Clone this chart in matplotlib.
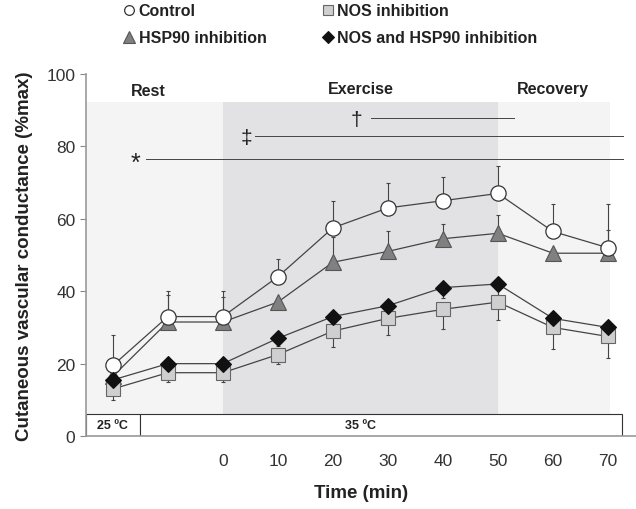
import numpy as np
import matplotlib
matplotlib.use("Agg")
from matplotlib import pyplot as plt
from matplotlib.patches import Rectangle
from matplotlib.lines import Line2D

plt.rcParams['font.family'] = ['Liberation Sans', 'DejaVu Sans']

# time points (the two rest samples sit at -20 and -10 on the axis)
time = [-20, -10, 0, 10, 20, 30, 40, 50, 60, 70]
xtick_vals = [0, 10, 20, 30, 40, 50, 60, 70]

control = [19.5, 33, 33, 44, 57.5, 63, 65, 67, 56.5, 52]
control_err = [8.5, 7, 7, 5, 7.5, 7, 6.5, 7.5, 7.5, 12]

hsp90 = [16.5, 31.5, 31.5, 37, 48, 51, 54.5, 56, 50.5, 50.5]
hsp90_err = [0, 7.5, 7, 0, 7, 5.5, 4, 5, 0, 6.5]

nos = [13, 17.5, 17.5, 22.5, 29, 32.5, 35, 37, 30, 27.5]
nos_err = [3, 2.5, 2.5, 2.5, 4.5, 4.5, 5.5, 5, 6, 6]

nos_hsp = [15.5, 20, 20, 27, 33, 36, 41, 42, 32.5, 30]
nos_hsp_err = [2, 2, 2, 2, 3, 3, 3, 3, 3, 3]

fig = plt.figure(figsize=(6.36, 5.1), dpi=100)
ax = fig.add_axes([0.135, 0.143, 0.865, 0.71])
ax.set_xlim(-24.9, 75.1)
ax.set_ylim(0, 100)

# shaded phases
ax.add_patch(Rectangle((-24.9, 6), 24.9, 86.3, color="#f4f4f4", lw=0, zorder=0))
ax.add_patch(Rectangle((0, 6), 50, 86.3, color="#e2e2e4", lw=0, zorder=0))
ax.add_patch(Rectangle((50, 6), 20.3, 86.3, color="#f4f4f4", lw=0, zorder=0))

# ambient temperature boxes
ax.add_patch(Rectangle((-24.9, 0), 9.9, 6, fc="white", ec="#333333", lw=0.8, zorder=1))
ax.add_patch(Rectangle((-15, 0), 87.6, 6, fc="white", ec="#333333", lw=0.8, zorder=1))
ax.text(-20, 3, "25 ºC", ha="center", va="center", fontsize=9, fontweight="bold", color="#222222")
ax.text(25, 3, "35 ºC", ha="center", va="center", fontsize=9, fontweight="bold", color="#222222")

ax.text(-13.5, 95.5, "Rest", ha="center", va="center", fontsize=11.5, fontweight="bold", color="#222222")
ax.text(25, 96, "Exercise", ha="center", va="center", fontsize=11.5, fontweight="bold", color="#222222")
ax.text(60, 96, "Recovery", ha="center", va="center", fontsize=11.5, fontweight="bold", color="#222222")

# significance lines
ax.plot([27, 53], [87.8, 87.8], color="#444444", lw=0.7)
ax.text(24.3, 87.5, "†", ha="center", va="center", fontsize=15, color="#222222")
ax.plot([5.8, 72.7], [82.8, 82.8], color="#444444", lw=0.7)
ax.text(4.2, 82.5, "‡", ha="center", va="center", fontsize=15, color="#222222")
ax.plot([-14, 72.7], [76.6, 76.6], color="#444444", lw=0.7)
ax.text(-15.8, 75.5, "*", ha="center", va="center", fontsize=18, color="#222222")

lc = "#444444"
ek = dict(ecolor=lc, elinewidth=0.8, capsize=1.5, capthick=0.8)
z = np.zeros(len(time))

ax.errorbar(time, control, yerr=[z, control_err], fmt="none", zorder=2, **ek)
ax.errorbar(time, hsp90, yerr=[z, hsp90_err], fmt="none", zorder=2, **ek)
ax.errorbar(time, nos, yerr=[nos_err, z], fmt="none", zorder=2, **ek)
ax.errorbar(time, nos_hsp, yerr=[nos_hsp_err, z], fmt="none", zorder=2, **ek)

styles = [
    dict(marker="o", ms=11, mfc="white", mec="#333333", mew=0.9),
    dict(marker="^", ms=12, mfc="#808080", mec="#555555", mew=0.8),
    dict(marker="s", ms=10, mfc="#cfcfcf", mec="#666666", mew=0.8),
    dict(marker="D", ms=8.5, mfc="#111111", mec="#111111", mew=0.8),
]
ax.plot(time, control, color=lc, lw=0.9, zorder=4, **styles[0])
ax.plot(time, hsp90, color=lc, lw=0.9, zorder=3, **styles[1])
ax.plot(time, nos, color=lc, lw=0.9, zorder=3, **styles[2])
ax.plot(time, nos_hsp, color=lc, lw=0.9, zorder=4, **styles[3])

# legend in two rows above the axes
labels = ["Control", "HSP90 inhibition", "NOS inhibition", "NOS and HSP90 inhibition"]
lx = [0.203, 0.203, 0.515, 0.515]
ly = [0.978, 0.925, 0.978, 0.925]
leg_ms = [7, 8, 7, 6]
for i in range(4):
    st = dict(styles[i])
    st["ms"] = leg_ms[i]
    fig.add_artist(Line2D([lx[i]], [ly[i]], transform=fig.transFigure, ls="none", **st))
    fig.text(lx[i] + 0.015, ly[i], labels[i], ha="left", va="center", fontsize=11.5,
             fontweight="bold", color="#222222")

ax.set_yticks([0, 20, 40, 60, 80, 100])
ax.set_xticks(xtick_vals)
ax.tick_params(axis="y", labelsize=12.5, colors="#333333", length=4, color="#888888")
ax.tick_params(axis="x", labelsize=12.5, colors="#333333", length=0, pad=12)
for s in ["top", "right"]:
    ax.spines[s].set_visible(False)
for s in ["left", "bottom"]:
    ax.spines[s].set_color("#999999")
    ax.spines[s].set_linewidth(1.2)

ax.set_ylabel("Cutaneous vascular conductance (%max)", fontsize=13.5, fontweight="bold", color="#222222", labelpad=10)
ax.set_xlabel("Time (min)", fontsize=13.5, fontweight="bold", color="#222222", labelpad=12)

plt.savefig("out.png", dpi=100)
